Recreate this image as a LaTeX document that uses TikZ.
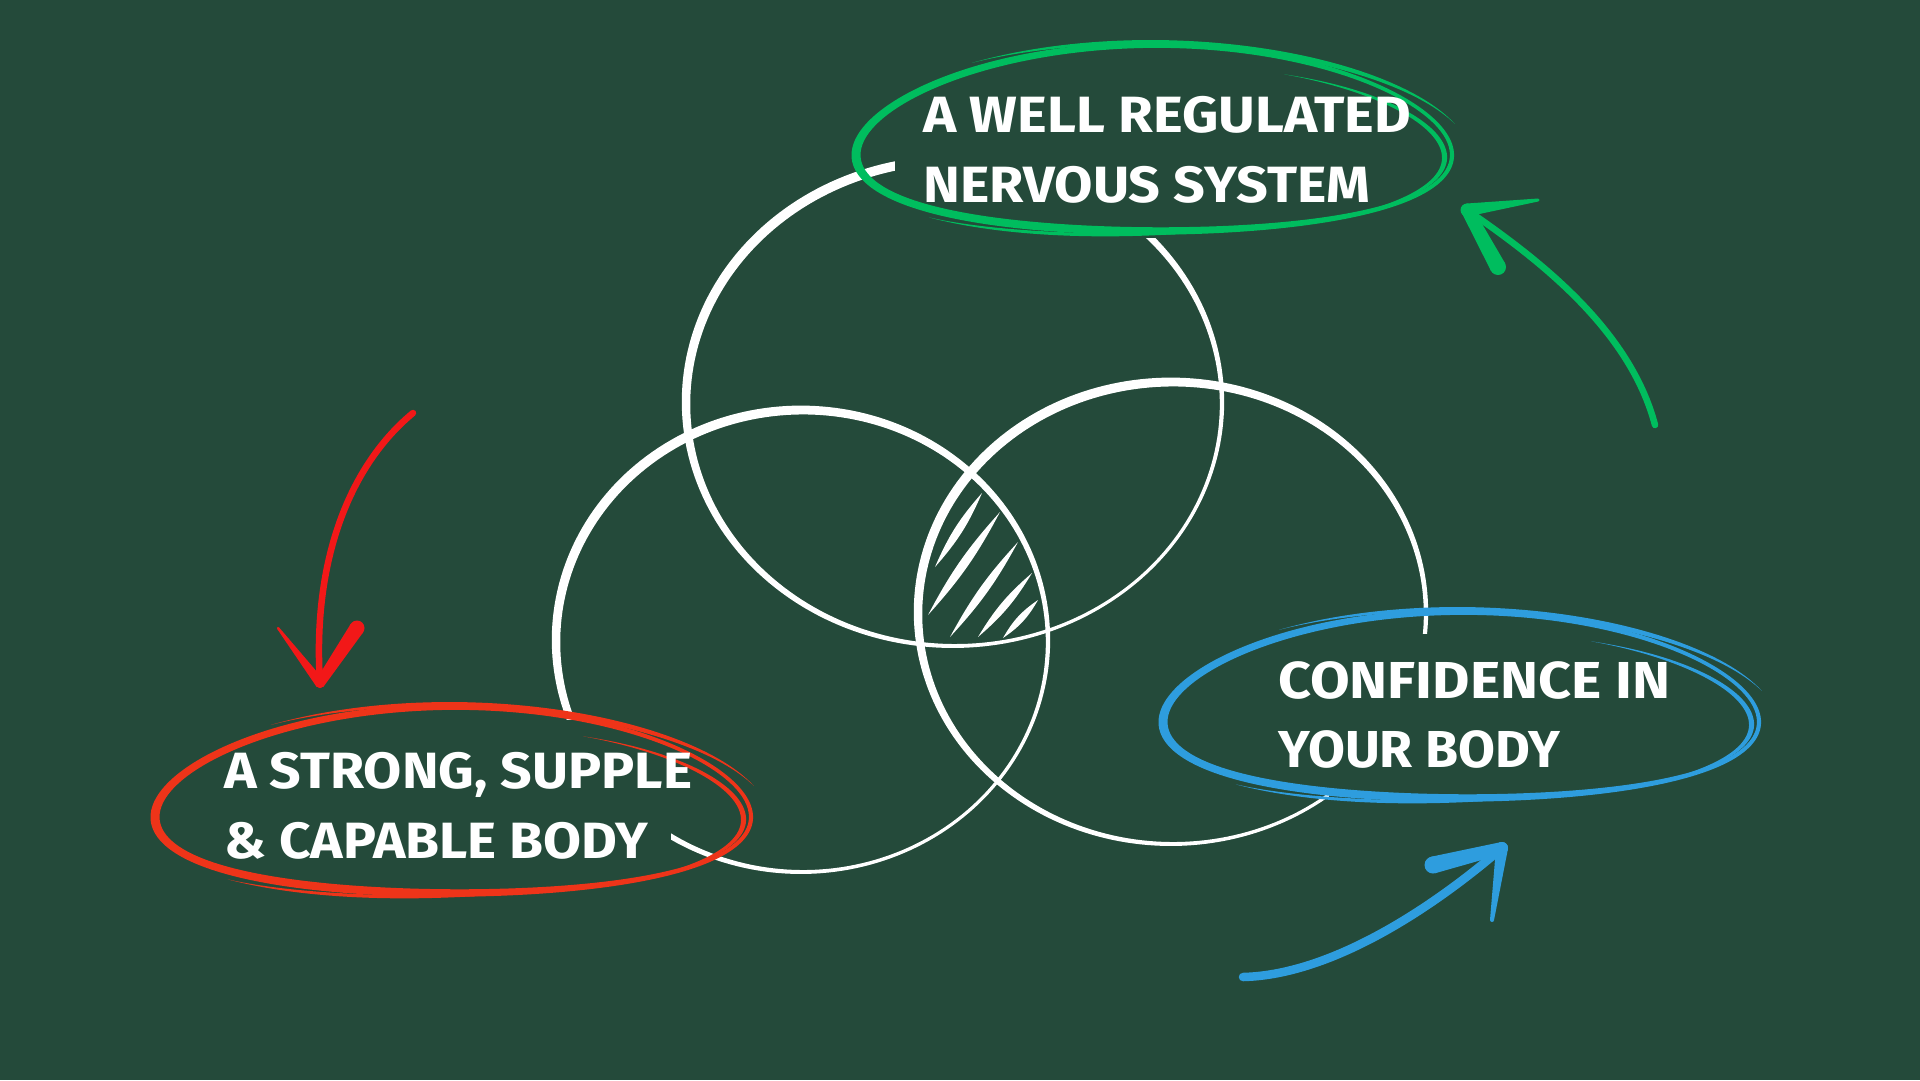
\documentclass[tikz,border=0pt]{standalone}
\usepackage{graphicx}
\usepackage{fontspec}
\setmainfont{Fira Sans}
\usetikzlibrary{calc}
\definecolor{bg}{RGB}{36,74,58}
\definecolor{sgreen}{RGB}{0,189,94}
\definecolor{sred}{RGB}{238,52,25}
\definecolor{ared}{RGB}{242,24,24}
\definecolor{sblue}{RGB}{46,157,222}

% hand-drawn white ring: cx cy rx ry
\newcommand\vennring[4]{%
  \fill[white, even odd rule]
    plot[domain=0:360, samples=220] ({#1+(#3+3.2+1.6*cos(\x-130))*cos(\x)}, {#2-(#4+3.2+1.6*cos(\x-130))*sin(\x)}) -- cycle
    plot[domain=0:360, samples=220] ({#1+(#3-3.2-1.6*cos(\x-130))*cos(\x)}, {#2-(#4-3.2-1.6*cos(\x-130))*sin(\x)}) -- cycle;}

% tapered arc of the scribble: t0 t1 d0 d1 hmax dip
\newcommand\scribarc[6]{%
  \fill plot[domain=0:1, samples=60] ({ex((#1)+((#2)-(#1))*\x, (#3)+((#4)-(#3))*\x-(#6)*sin(180*\x)+(#5)*sin(180*\x))}, {ey((#1)+((#2)-(#1))*\x, (#3)+((#4)-(#3))*\x-(#6)*sin(180*\x)+(#5)*sin(180*\x))})
    -- plot[domain=0:1, samples=60] ({ex((#2)+((#1)-(#2))*\x, (#4)+((#3)-(#4))*\x-(#6)*sin(180*\x)-(#5)*sin(180*\x))}, {ey((#2)+((#1)-(#2))*\x, (#4)+((#3)-(#4))*\x-(#6)*sin(180*\x)-(#5)*sin(180*\x))}) -- cycle;}

% scribbled ellipse: cx cy colour
\newcommand\scribble[3]{%
  \begin{scope}[shift={(#1,#2)}, color=#3]
    \fill[even odd rule]
      plot[domain=0:360, samples=220] ({ex(\x, 3.3+1.3*cos(\x-200))}, {ey(\x, 3.3+1.3*cos(\x-200))}) -- cycle
      plot[domain=0:360, samples=220] ({ex(\x, -3.3-1.3*cos(\x-200))}, {ey(\x, -3.3-1.3*cos(\x-200))}) -- cycle;
    \scribarc{126.5}{16}{8}{15}{2.8}{9}
    \scribarc{62.4}{-50}{-17}{0}{2.6}{0}
    \scribarc{223}{280}{10}{2}{1.7}{0}
  \end{scope}}

% brush stroke between two named points with end half-widths
\newcommand\wedgeline[4]{%
  \fill ($(#1)!#3!90:(#2)$) -- ($(#2)!#4!-90:(#1)$) -- ($(#2)!#4!90:(#1)$) -- ($(#1)!#3!-90:(#2)$) -- cycle;
  \fill (#1) circle[radius=#3];
  \fill (#2) circle[radius=#4];}

\begin{document}
\begin{tikzpicture}[x=1pt, y=-1pt,
  declare function={ex(\angl,\offs)=(298+\offs)*cos(\angl);
                    ey(\angl,\offs)=-(93+\offs)*sin(\angl)+17*cos(\angl)*cos(\angl);},
  lbl/.style={text=white, inner sep=0pt, anchor=base west},
  lblfont/.style={font=\fontsize{51}{60}\selectfont\bfseries},
  hatchstroke/.style={fill=white}]

\useasboundingbox (0,0) rectangle (1920,1080);
\fill[bg] (0,0) rectangle (1920,1080);

% Venn circles
\vennring{954}{403}{268}{243}
\vennring{802}{641}{246}{231}
\vennring{1172}{613}{254}{231}

% hatching in the common region
\coordinate (h1a) at (935,567); \coordinate (h1b) at (982,493);
\coordinate (h2a) at (928,615); \coordinate (h2b) at (1000,512);
\coordinate (h3a) at (950,637); \coordinate (h3b) at (1018,542);
\coordinate (h4a) at (978,637); \coordinate (h4b) at (1032,573);
\coordinate (h5a) at (1003,638); \coordinate (h5b) at (1038,600);
\fill[hatchstroke] (h1a) to[bend left=9] (h1b) to[bend left=9] (h1a) -- cycle;
\fill[hatchstroke] (h2a) to[bend left=7] (h2b) to[bend left=7] (h2a) -- cycle;
\fill[hatchstroke] (h3a) to[bend left=7] (h3b) to[bend left=7] (h3a) -- cycle;
\fill[hatchstroke] (h4a) to[bend left=9] (h4b) to[bend left=9] (h4a) -- cycle;
\fill[hatchstroke] (h5a) to[bend left=13] (h5b) to[bend left=13] (h5a) -- cycle;

% gaps in the circles behind the labels
\fill[bg] (895,0) rectangle (1470,238);
\fill[bg] (120,720) rectangle (671,915);
\fill[bg] (1329,634) rectangle (1800,900);

% scribbled ellipses
\scribble{1154}{138}{sgreen}
\scribble{453}{800}{sred}
\scribble{1461}{705}{sblue}

% labels
\node[lbl, lblfont] (g1) at (923,132) {\resizebox{488pt}{\height}{A WELL REGULATED}};
\node[lbl, lblfont] (g2) at (923,202) {\resizebox{447pt}{\height}{NERVOUS SYSTEM}};
\node[lbl, lblfont] (r1) at (224,788) {\resizebox{468pt}{\height}{A STRONG, SUPPLE}};
\node[lbl, lblfont] (r2) at (224,858) {\resizebox{424pt}{\height}{\&\ CAPABLE BODY}};
\node[lbl, font=\fontsize{52}{60}\selectfont\bfseries] (b1) at (1278,698) {\resizebox{392pt}{\height}{CONFIDENCE IN}};
\node[lbl, font=\fontsize{52}{60}\selectfont\bfseries] (b2) at (1278,767) {\resizebox{282pt}{\height}{YOUR BODY}};

% red arrow
\coordinate (rA) at (413,413); \coordinate (rT) at (320,683);
\coordinate (rL) at (278,628); \coordinate (rR) at (357,628);
\draw[ared, line width=6.5pt, line cap=round] (rA) .. controls (350,465) and (312,560) .. (rT);
\begin{scope}[color=ared]
  \wedgeline{rT}{rL}{5pt}{1.2pt}
  \wedgeline{rT}{rR}{5pt}{7.5pt}
\end{scope}

% green arrow
\coordinate (gA) at (1655,425); \coordinate (gT) at (1467,210);
\coordinate (gU) at (1538,200); \coordinate (gD) at (1498,267);
\draw[sgreen, line width=6.5pt, line cap=round] (gA) .. controls (1630,330) and (1540,260) .. (gT);
\begin{scope}[color=sgreen]
  \wedgeline{gT}{gU}{6.5pt}{1.5pt}
  \wedgeline{gT}{gD}{6pt}{8pt}
\end{scope}

% blue arrow
\coordinate (bA) at (1243,977); \coordinate (bT) at (1502,848);
\coordinate (bL) at (1433,865); \coordinate (bD) at (1492,920);
\draw[sblue, line width=8.5pt, line cap=round] (bA) .. controls (1330,975) and (1430,910) .. (bT);
\begin{scope}[color=sblue]
  \wedgeline{bT}{bL}{6pt}{8.5pt}
  \wedgeline{bT}{bD}{6pt}{2pt}
\end{scope}

\end{tikzpicture}
\end{document}
